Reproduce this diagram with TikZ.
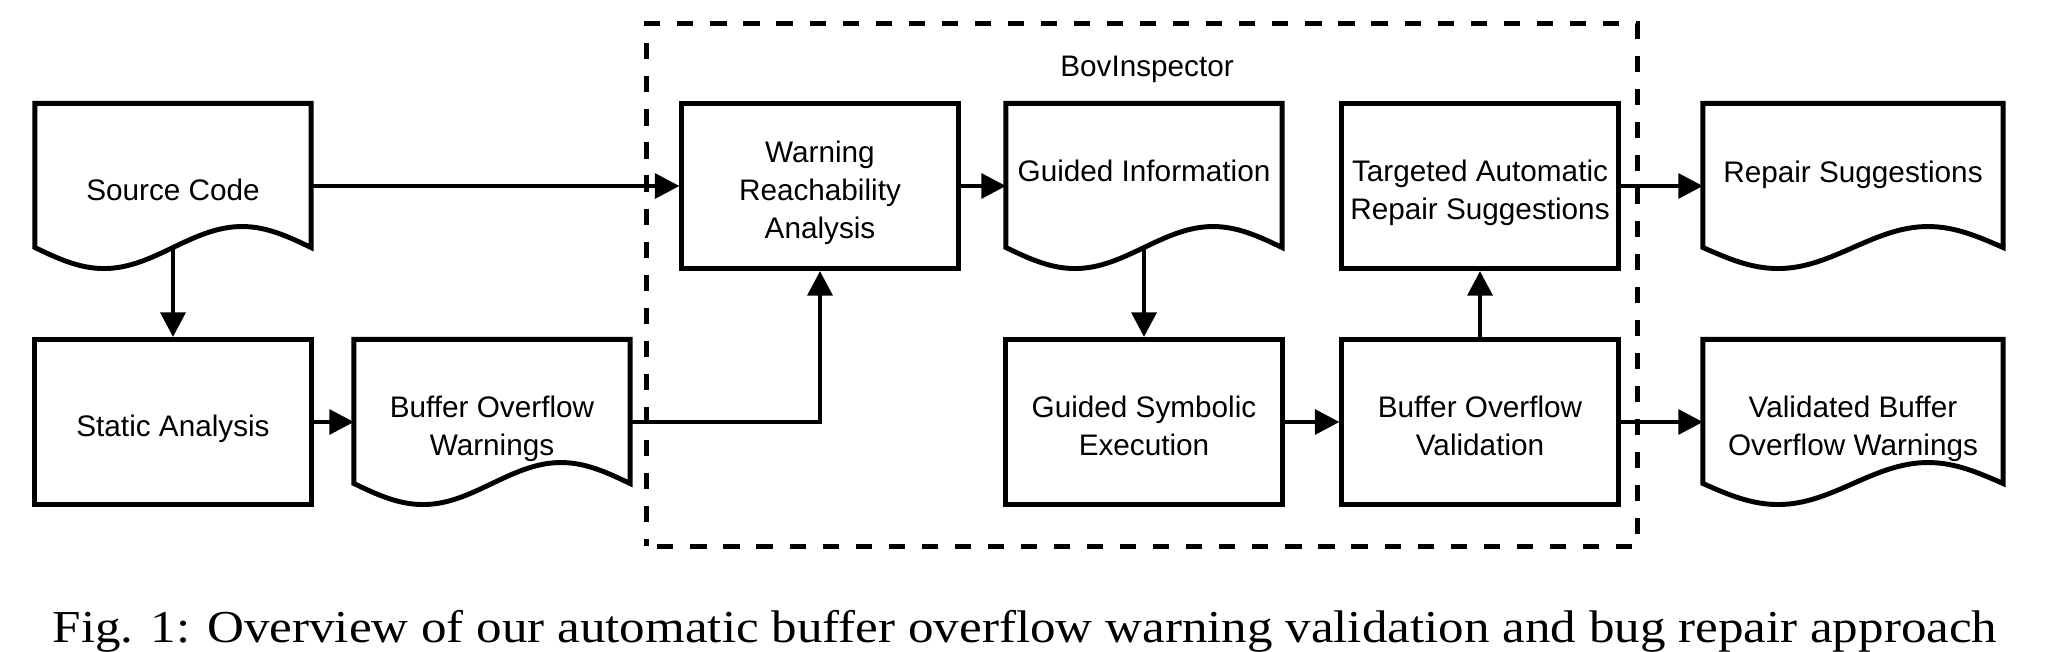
\documentclass[tikz,border=0pt]{standalone}
\usepackage{fontspec}
\newfontfamily\arialf{Liberation Sans}
\newfontfamily\capf{Liberation Serif}
\usetikzlibrary{arrows.meta,calc}
\newcommand{\tx}[2]{\raisebox{#1}[\height][\depth]{\begin{tabular}{@{}c@{}}#2\end{tabular}}}
\newcommand{\docoutline}[1]{%
  \draw[line width=1.4pt] let \p1=(#1.north west), \p2=(#1.south east), \n1={(\x2-\x1)/4} in
    (\x2,{\y2+0.21cm}) -- (\x2,\y1) -- (\x1,\y1) -- (\x1,{\y2+0.21cm})
    sin ({\x1+\n1},\y2) cos ({\x1+2*\n1},{\y2+0.21cm})
    sin ({\x1+3*\n1},{\y2+0.42cm}) cos (\x2,{\y2+0.21cm}) -- cycle;}
\begin{document}
\begin{tikzpicture}[x=0.01cm,y=-0.01cm,
  every node/.style={font=\arialf\fontsize{8.45pt}{10.75pt}\selectfont},
  procbox/.style={draw, line width=1.4pt, minimum width=2.76cm, minimum height=1.65cm, inner sep=0pt},
  docnode/.style={line width=1.4pt, outer sep=0pt, minimum width=2.76cm, minimum height=1.65cm, inner sep=0pt},
  widedoc/.style={docnode, minimum width=3.00cm},
  flow/.style={line width=1.3pt, -{Triangle[length=7pt,width=7pt]}},
  container/.style={draw, line width=1.4pt, dash pattern=on 4.6pt off 4.8pt, dash phase=-3pt, minimum width=9.90cm, minimum height=5.22cm, inner sep=0pt},
]
\path[use as bounding box, fill=white] (0,0) rectangle (2052,652);

% container
\node[container] (bi) at (1142,285) {};
\node[inner sep=0pt] (bilabel) at (1147,69) {BovInspector};

% nodes
\node[docnode] (sc) at (173,186) {\tx{-2pt}{Source Code}};
\node[procbox] (sa) at (173,422) {\tx{-2pt}{Static Analysis}};
\node[docnode] (bow) at (492,422) {\tx{-2pt}{Buffer Overflow\\Warnings}};
\node[procbox] (war) at (820,186) {\tx{-2pt}{Warning\\Reachability\\Analysis}};
\node[docnode] (gi) at (1144,186) {\tx{3.4pt}{Guided Information}};
\node[procbox] (gse) at (1144,422) {\tx{-2pt}{Guided Symbolic\\Execution}};
\node[procbox] (tar) at (1480,186) {\tx{-2pt}{Targeted Automatic\\Repair Suggestions}};
\node[procbox] (bov) at (1480,422) {\tx{-2pt}{Buffer Overflow\\Validation}};
\node[widedoc] (rs) at (1853,186) {\tx{3.1pt}{Repair Suggestions}};
\node[widedoc] (vbow) at (1853,422) {\tx{-2pt}{Validated Buffer\\Overflow Warnings}};

\docoutline{sc}
\docoutline{bow}
\docoutline{gi}
\docoutline{rs}
\docoutline{vbow}

\coordinate (scw) at ($(sc.south)+(0,-21)$);
\coordinate (giw) at ($(gi.south)+(0,-21)$);

% connectors
\draw[flow] (sc.east) -- (war.west);
\draw[flow] (scw) -- (sa.north);
\draw[flow] (sa.east) -- (bow.west);
\draw[flow] (bow.east) -| (war.south);
\draw[flow] (war.east) -- (gi.west);
\draw[flow] (giw) -- (gse.north);
\draw[flow] (gse.east) -- (bov.west);
\draw[flow] (bov.north) -- (tar.south);
\draw[flow] (tar.east) -- (rs.west);
\draw[flow] (bov.east) -- (vbow.west);

% caption
\node[font=\capf\fontsize{13pt}{16pt}\selectfont, anchor=base, inner sep=0pt] (cap) at (1025,642)
  {\scalebox{1.117}[1]{Fig. 1: Overview of our automatic buffer overflow warning validation and bug repair approach}};
\end{tikzpicture}
\end{document}
